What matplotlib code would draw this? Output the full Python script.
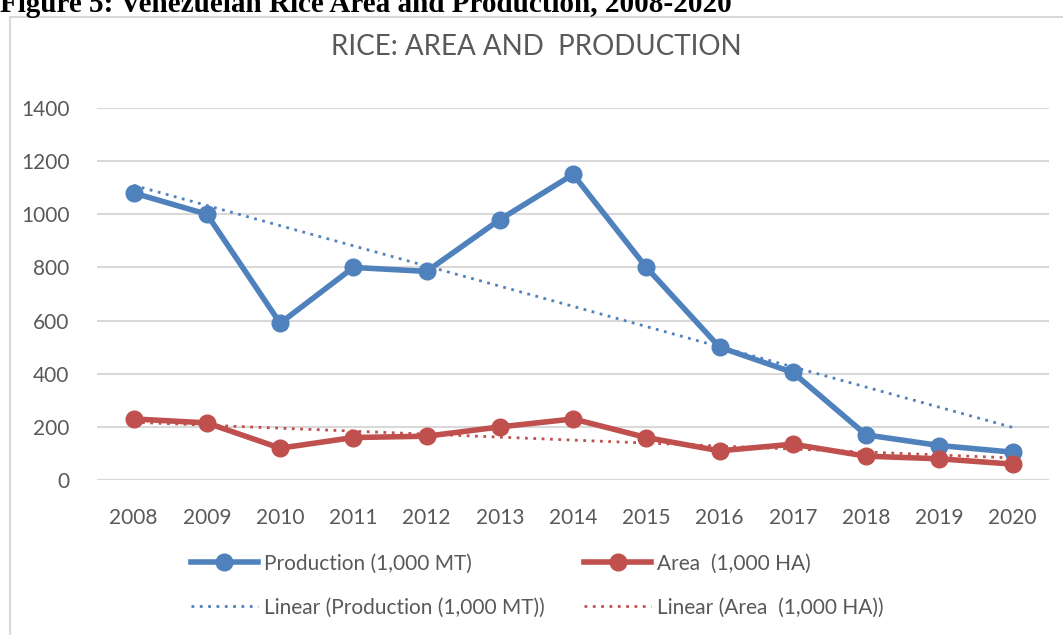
import numpy as np
import matplotlib.pyplot as plt
from matplotlib.patches import Rectangle

plt.rcParams['font.family'] = ['Lato', 'DejaVu Sans']

years = ['2008', '2009', '2010', '2011', '2012', '2013', '2014',
         '2015', '2016', '2017', '2018', '2019', '2020']
production = [1080, 1000, 590, 800, 785, 980, 1150, 800, 500, 405, 170, 130, 105]
area = [230, 215, 120, 160, 165, 200, 230, 160, 110, 135, 90, 80, 60]

blue = '#4F81BD'
red = '#C0504D'
grey_txt = '#595959'

fig = plt.figure(figsize=(10.63, 6.35), dpi=100)
ax = fig.add_axes([0.0913, 0.244, 0.8957, 0.586])

x = np.arange(len(years))

# excel style linear trend lines
pp = np.polyfit(x, production, 1)
pa = np.polyfit(x, area, 1)

l1, = ax.plot(x, production, color=blue, lw=4, marker='o', ms=12,
              label='Production (1,000 MT)', zorder=4)
l2, = ax.plot(x, area, color=red, lw=4, marker='o', ms=12,
              label='Area  (1,000 HA)', zorder=4)
t1, = ax.plot(x, np.polyval(pp, x), color=blue, lw=2, ls=(0, (1, 2)),
              label='Linear (Production (1,000 MT))', zorder=5)
t2, = ax.plot(x, np.polyval(pa, x), color=red, lw=2, ls=(0, (1, 2)),
              label='Linear (Area  (1,000 HA))', zorder=5)

ax.set_xlim(-0.5, len(years) - 0.5)
ax.set_ylim(0, 1400)
ax.set_yticks(range(0, 1401, 200))
ax.set_xticks(x)
ax.set_xticklabels(years)
ax.tick_params(length=0, labelsize=15, labelcolor=grey_txt)
ax.tick_params(axis='x', pad=20)
ax.tick_params(axis='y', pad=20)
ax.grid(axis='y', color='#D9D9D9', lw=1.5)
ax.set_axisbelow(True)
for s in ax.spines.values():
    s.set_visible(False)

# title centred on the chart box, not the plot area
ax.set_title('RICE: AREA AND  PRODUCTION', fontsize=20, color=grey_txt, pad=38,
             x=(536 - 97) / 952)

leg = ax.legend(handles=[l1, t1, l2, t2], ncol=2, loc='upper left',
                bbox_to_anchor=(0.09, -0.175), frameon=False, fontsize=15,
                handlelength=3.2, handletextpad=0.3, columnspacing=1.9,
                labelspacing=1.15, borderaxespad=0)
for txt in leg.get_texts():
    txt.set_color(grey_txt)

# chart border and figure caption
fig.patches.append(Rectangle((10 / 1063, -0.1), 1.2, 1.1 - 17 / 635,
                             transform=fig.transFigure, fill=False,
                             edgecolor='#D9D9D9', lw=1.5))
fig.text(0.0, 1 - 12 / 635, 'Figure 5: Venezuelan Rice Area and Production, 2008-2020',
         family='Liberation Serif', weight='bold', fontsize=21, va='baseline')

fig.savefig('out.png', dpi=100)
